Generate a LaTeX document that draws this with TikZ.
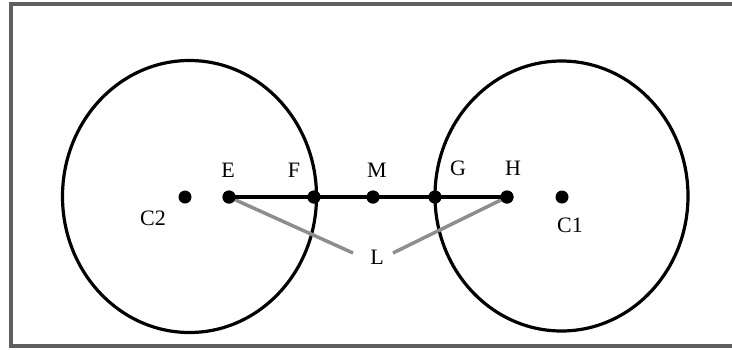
\documentclass[tikz,border=0pt]{standalone}
\usepackage{fontspec}
\setmainfont{Liberation Serif}
\usetikzlibrary{calc}
\definecolor{mFrame}{HTML}{5F5F5F}
\definecolor{mGray}{HTML}{8E8E8E}
\tikzset{
  dot/.style={circle, fill=black, inner sep=0pt, minimum size=13pt},
  lbl/.style={font=\fontsize{22}{26}\selectfont, inner sep=0pt},
}
\begin{document}
\begin{tikzpicture}[x=1pt, y=-1pt]
    \useasboundingbox (0,0) rectangle (732,349);
    \clip (0,0) rectangle (732,349);
    \draw[mFrame, line width=4pt] (760,4) -- (11,4) -- (11,346) -- (760,346);
    \draw[line width=3.2pt] (189.5,196.5) ellipse [x radius=127pt, y radius=136pt];
    \draw[line width=3.2pt] (561.5,196) ellipse [x radius=126.5pt, y radius=135pt];
    % points on the line
    \node[dot] (C2) at (185,197) {};
    \node[dot] (E)  at (229,197) {};
    \node[dot] (F)  at (314,197) {};
    \node[dot] (M)  at (373,197) {};
    \node[dot] (G)  at (435,197) {};
    \node[dot] (H)  at (507,197) {};
    \node[dot] (C1) at (562,197) {};
    % labels
    \node[lbl] (lE)  at (228,170) {E};
    \node[lbl] (lF)  at (294,170) {F};
    \node[lbl] (lM)  at (377,170) {M};
    \node[lbl] (lG)  at (458,168) {G};
    \node[lbl] (lH)  at (513,168) {H};
    \node[lbl] (lC2) at (153,218) {C2};
    \node[lbl] (lC1) at (570,225) {C1};
    \node[lbl] (L)   at (377,257) {L};
    \coordinate (Lw) at (353,253);
    \coordinate (Le) at (393,253);
    \draw[mGray, line width=3.5pt] (E.center) -- (Lw);
    \draw[mGray, line width=3.5pt] (H.center) -- (Le);
    \draw[line width=4pt] (E.center) -- (H.center);
    \foreach \p in {E,F,M,G,H} \fill (\p) circle (6.5pt);
\end{tikzpicture}
\end{document}
